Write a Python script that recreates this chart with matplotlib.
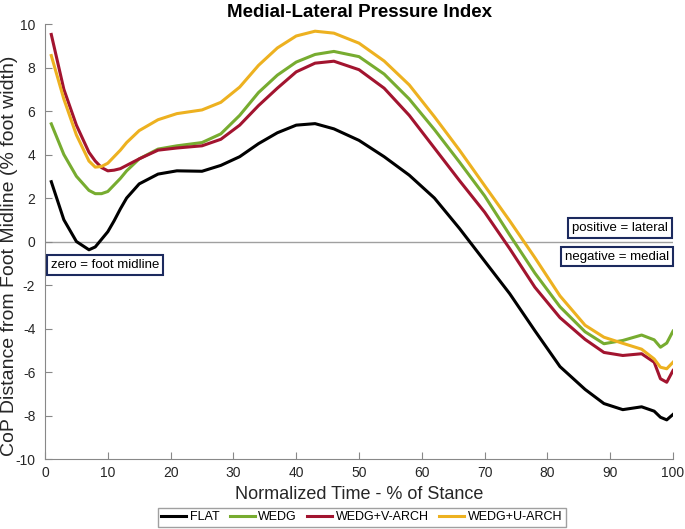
import matplotlib.pyplot as plt

plt.rcParams['font.family'] = ['Liberation Sans', 'DejaVu Sans']
plt.rcParams['axes.unicode_minus'] = False

# --- data ---
x = [1, 3, 5, 7, 8, 9, 10, 11, 12, 13, 15, 18, 21, 25, 28, 31, 34, 37, 40, 43,
     46, 50, 54, 58, 62, 66, 70, 74, 78, 82, 86, 89, 92, 95, 97, 98, 99, 100]

flat = [2.75, 1.0, 0.0, -0.38, -0.25, 0.1, 0.45, 0.95, 1.5, 2.0, 2.65, 3.1, 3.25,
        3.23, 3.5, 3.9, 4.5, 5.0, 5.35, 5.42, 5.18, 4.65, 3.9, 3.05, 2.0, 0.6,
        -0.9, -2.4, -4.1, -5.75, -6.8, -7.45, -7.73, -7.6, -7.8, -8.08, -8.2, -7.95]

wedg = [5.41, 4.0, 3.0, 2.35, 2.2, 2.2, 2.3, 2.6, 2.9, 3.25, 3.8, 4.25, 4.4,
        4.55, 4.95, 5.8, 6.85, 7.65, 8.25, 8.6, 8.74, 8.5, 7.7, 6.55, 5.15, 3.65,
        2.1, 0.3, -1.45, -3.0, -4.15, -4.7, -4.55, -4.3, -4.52, -4.86, -4.67, -4.12]

v_arch = [9.52, 7.0, 5.35, 4.1, 3.7, 3.4, 3.25, 3.28, 3.35, 3.5, 3.8, 4.2, 4.3,
          4.4, 4.7, 5.35, 6.25, 7.05, 7.8, 8.2, 8.29, 7.9, 7.05, 5.8, 4.3, 2.8,
          1.35, -0.33, -2.1, -3.5, -4.5, -5.1, -5.24, -5.16, -5.55, -6.31, -6.47, -5.93]

u_arch = [8.55, 6.55, 4.9, 3.7, 3.42, 3.45, 3.6, 3.9, 4.2, 4.55, 5.1, 5.6, 5.88,
          6.05, 6.4, 7.1, 8.1, 8.9, 9.45, 9.67, 9.58, 9.12, 8.3, 7.2, 5.74, 4.2,
          2.57, 0.95, -0.74, -2.5, -3.85, -4.4, -4.68, -4.95, -5.4, -5.78, -5.85, -5.55]

labels = ['FLAT', 'WEDG', 'WEDG+V-ARCH', 'WEDG+U-ARCH']
colors = ['#000000', '#77AC30', '#A2142F', '#EDB120']

# --- figure ---
fig = plt.figure(figsize=(6.85, 5.29), dpi=100)
ax = fig.add_axes([0.0657, 0.1323, 0.9168, 0.8223])

ax.axhline(0, color='#a0a0a0', lw=1, zorder=1)

for ys, lab, c in zip([flat, wedg, v_arch, u_arch], labels, colors):
    ax.plot(x, ys, color=c, lw=2.2, label=lab, zorder=3)

ax.set_xlim(0, 100)
ax.set_ylim(-10, 10)
ax.set_xticks(range(0, 101, 10))
ax.set_yticks(range(-10, 11, 2))

for side in ['top', 'right']:
    ax.spines[side].set_visible(False)
for side in ['left', 'bottom']:
    ax.spines[side].set_color('#888888')
ax.tick_params(direction='in', length=5, color='#888888', labelcolor='#262626',
               labelsize=10)
ax.tick_params(axis='y', pad=7)
ax.tick_params(axis='x', pad=5)

ax.set_title('Medial-Lateral Pressure Index', fontsize=13.5, fontweight='bold',
             pad=5)
ax.set_xlabel('Normalized Time - % of Stance', fontsize=13, color='#262626')
ax.set_ylabel('CoP Distance from Foot Midline (% foot width)', fontsize=14,
              color='#262626', va='center')
ax.yaxis.set_label_coords(-0.056, 0.467)

# annotation boxes
box = dict(boxstyle='square,pad=0.3', fc='white', ec='#1c2a5e', lw=1.5)
ax.text(0.9, -1.1, 'zero = foot midline', ha='left', va='center',
        fontsize=9.5, bbox=box)
ax.text(99.2, 0.64, 'positive = lateral', ha='right', va='center',
        fontsize=9.5, bbox=box)
ax.text(99.4, -0.69, 'negative = medial', ha='right', va='center',
        fontsize=9.5, bbox=box)

fig.legend(loc='center', bbox_to_anchor=(0.528, 0.022), ncol=4, fontsize=9,
           frameon=True, fancybox=False, edgecolor='#888888', handlelength=2.0,
           handletextpad=0.3, columnspacing=0.8, borderpad=0.3)

fig.savefig('out.png', dpi=100)
